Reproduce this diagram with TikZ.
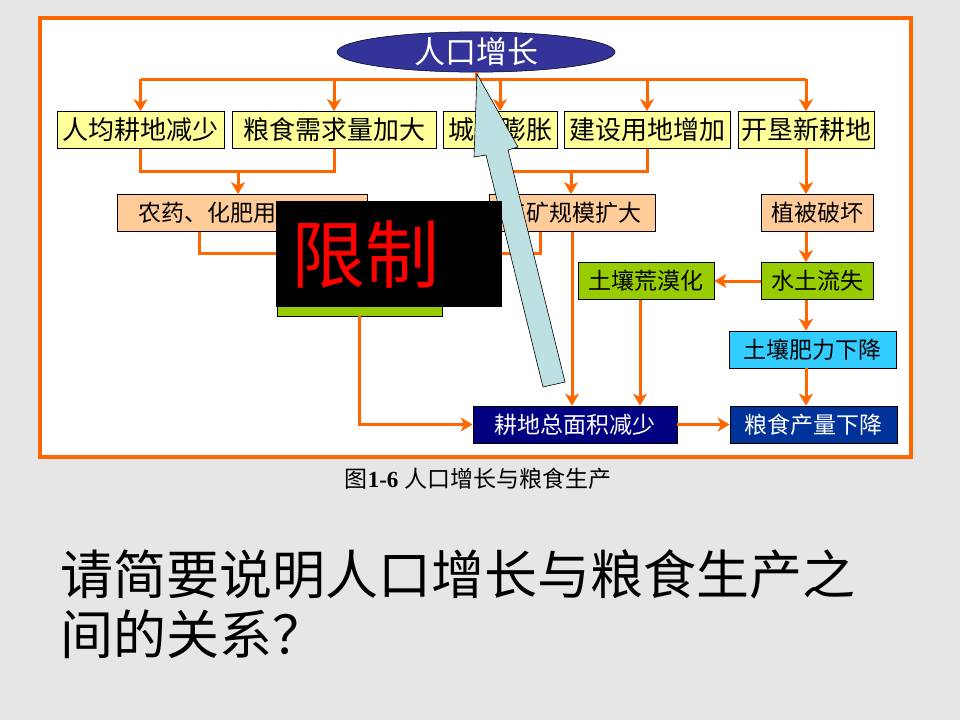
\documentclass[tikz,border=0pt]{standalone}
\usepackage{fontspec}
\setmainfont{Liberation Serif}
\newfontfamily\cjk{Noto Sans CJK SC}
\usetikzlibrary{shapes.geometric,arrows.meta}
\definecolor{flowline}{HTML}{FF6600}
\definecolor{slidegray}{HTML}{E6E6E6}
\definecolor{popblue}{HTML}{333399}
\definecolor{causeyellow}{HTML}{FFFF99}
\definecolor{effectpeach}{HTML}{FFCC99}
\definecolor{soilgreen}{HTML}{99CC00}
\definecolor{fertcyan}{HTML}{33CCFF}
\definecolor{landnavy}{HTML}{000080}
\definecolor{yieldblue}{HTML}{003399}
\definecolor{pointerblue}{HTML}{BDE0E3}

\begin{document}
\begin{tikzpicture}[x=1pt,y=-1pt,
    line/.style={draw=flowline,line width=3pt},
    arr/.style={line,-{Stealth[length=12pt,width=14pt,inset=3.5pt]}},
    box/.style={draw=black,line width=0.8pt,inner sep=0pt,minimum height=37pt},
    big/.style={font=\cjk\fontsize{26}{26}\selectfont},
    small/.style={font=\cjk\fontsize{23}{23}\selectfont}]
          \fill[slidegray] (0,0) rectangle (960,720);
          \useasboundingbox (0,0) rectangle (960,720);
          \draw[flowline,line width=3.5pt,fill=white] (40,18) rectangle (911,457);
          \node[ellipse,draw=black,line width=0.5pt,fill=popblue,text=white,minimum width=278pt,minimum height=38pt,inner sep=0pt,font=\cjk\fontsize{31}{31}\selectfont] (pop) at (476,52) {人口增长};
          \node[box,big,fill=causeyellow,minimum width=167pt] (perland) at (140.5,130) {人均耕地减少};
          \node[box,big,fill=causeyellow,minimum width=204pt] (demand) at (334,130) {粮食需求量加大};
          \node[box,big,fill=causeyellow,minimum width=114pt] (city) at (500,130) {城市膨胀};
          \node[box,big,fill=causeyellow,minimum width=166pt] (build) at (647,130) {建设用地增加};
          \node[box,big,fill=causeyellow,minimum width=136pt] (reclaim) at (806,130) {开垦新耕地};
          \node[box,small,fill=effectpeach,minimum width=250pt] (chem) at (242,213) {农药、化肥用量增加};
          \node[box,small,fill=effectpeach,minimum width=166pt] (mine) at (572,213) {工矿规模扩大};
          \node[box,small,fill=effectpeach,minimum width=112pt] (veg) at (817,213) {植被破坏};
          \node[box,small,fill=soilgreen,minimum width=112pt] (loss) at (817,281) {水土流失};
          \node[box,small,fill=soilgreen,minimum width=136pt] (desert) at (646,281) {土壤荒漠化};
          \node[box,fill=soilgreen,minimum width=165pt,minimum height=38pt] (soil) at (359.5,297) {};
          \node[box,small,fill=fertcyan,minimum width=167pt] (fert) at (812.5,349.5) {土壤肥力下降};
          \node[box,small,fill=landnavy,text=white,minimum width=204pt] (land) at (575,424.5) {耕地总面积减少};
          \node[box,small,fill=yieldblue,text=white,minimum width=167pt] (yield) at (813.5,424.5) {粮食产量下降};
          \coordinate (top) at (476,79);
          \coordinate (joinA) at (238,171);
          \coordinate (joinB) at (571,171);
          \coordinate (joinC) at (359,253);
          \draw[line] (pop.south) -- (top);
          \draw[line] (perland.north |- top) -- (reclaim.north |- top);
          \foreach \n in {perland,demand,city,build,reclaim}
          \draw[arr] (\n.north |- top) -- (\n.north);
          \draw[line] (perland.south) |- (demand.south |- joinA) -- (demand.south);
          \draw[arr] (joinA) -- (joinA |- chem.north);
          \draw[line] (city.south) |- (build.south |- joinB) -- (build.south);
          \draw[arr] (joinB) -- (joinB |- mine.north);
          \draw[line] ([xshift=-43pt]chem.south) |- (joinC);
          \draw[line] ([xshift=-32pt]mine.south) |- (joinC);
          \draw[arr] (joinC) -- (soil.north);
          \draw[arr] (reclaim.south) -- (veg.north -| reclaim);
          \draw[arr] (veg.south -| reclaim) -- (loss.north -| reclaim);
          \draw[arr] (loss.west) -- (desert.east);
          \draw[arr] (loss.south -| reclaim) -- (fert.north -| reclaim);
          \draw[arr] (fert.south -| reclaim) -- (yield.north -| reclaim);
          \draw[arr] (mine.south) -- (mine.south |- land.north);
          \draw[arr] ([xshift=-6pt]desert.south) -- ([xshift=-6pt]desert.south |- land.north);
          \draw[arr] (soil.south) |- (land.west);
          \draw[arr] (land.east) -- (yield.west);
          \draw[fill=pointerblue,line width=0.6pt] (477,74) -- (518,147) -- (508,150) -- (565,382) -- (543,387) -- (486,155) -- (474,157) -- cycle;
          \node[fill=black,minimum width=226pt,minimum height=106pt,inner sep=0pt,anchor=north west] (limit) at (276,201) {};
          \node[text=red,inner sep=0pt,font=\cjk\fontsize{74}{74}\selectfont] (limittext) at (365,255) {限制};
          \node[anchor=base,inner sep=0pt,font=\fontsize{23}{23}\selectfont] (caption) at (478,487) {{\cjk 图}\textbf{1-6} {\cjk 人口增长与粮食生产}};
          \node[anchor=base west,inner sep=0pt,font=\cjk\fontsize{53}{53}\selectfont] (question1) at (60,594) {请简要说明人口增长与粮食生产之};
          \node[anchor=base west,inner sep=0pt,font=\cjk\fontsize{53}{53}\selectfont] (question2) at (60,654) {间的关系？};
      \end{tikzpicture}
\end{document}
